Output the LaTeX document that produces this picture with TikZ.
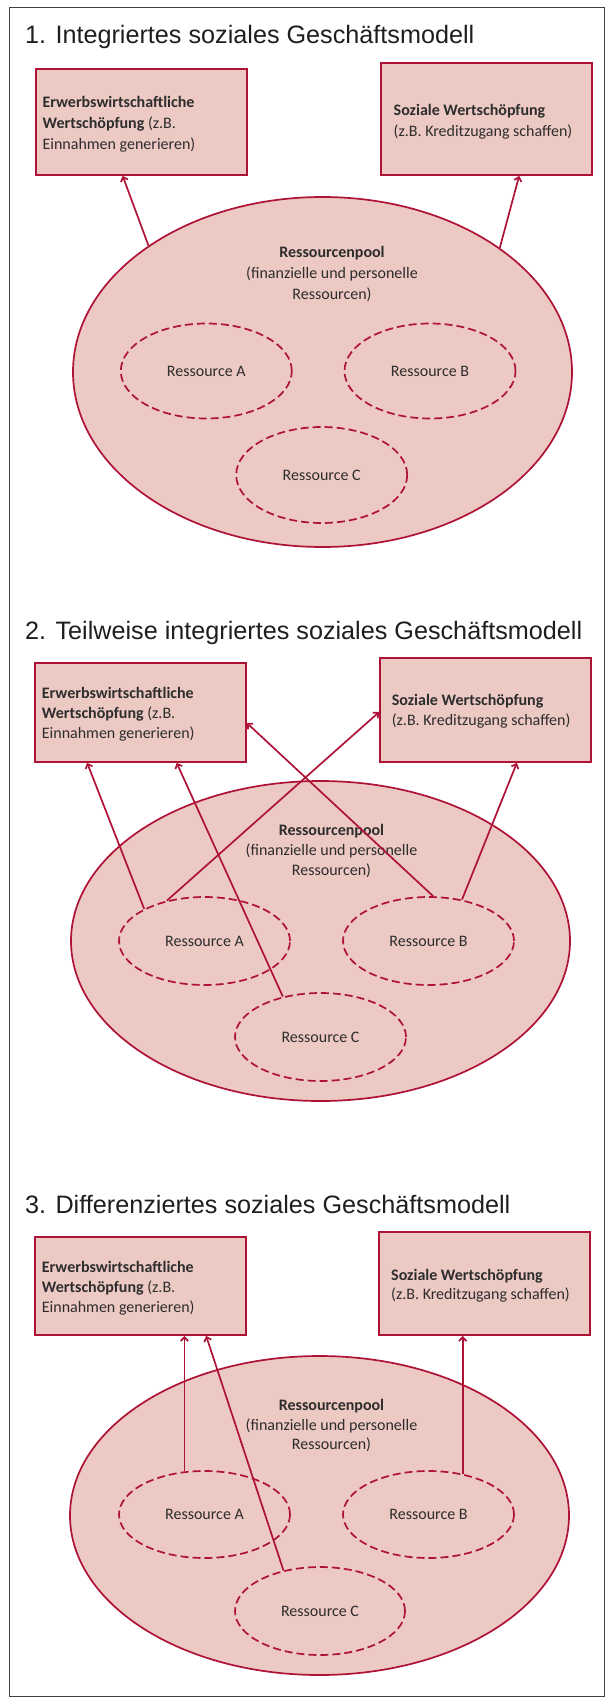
\documentclass[tikz,border=0pt]{standalone}
\usepackage{fontspec}
\setmainfont{Carlito}
\newfontfamily\titlefont{Liberation Sans}
\usetikzlibrary{shapes.geometric,arrows.meta,calc}
\definecolor{crim}{RGB}{175,18,55}
\definecolor{pinkfill}{RGB}{236,201,195}
\definecolor{txtcol}{RGB}{45,45,45}
\definecolor{framecol}{RGB}{64,64,64}
\definecolor{titlecol}{RGB}{30,30,30}
\begin{document}
\begin{tikzpicture}[x=1pt,y=-1pt,
  box/.style={draw=crim, fill=pinkfill, line width=1.7pt, inner sep=0pt, rectangle},
  pool/.style={draw=crim, fill=pinkfill, line width=1.7pt, ellipse, inner sep=0pt, minimum width=499pt},
  res/.style={draw=crim, dash pattern=on 8pt off 4pt, line width=1.7pt, ellipse, inner sep=0pt, minimum width=171pt, font=\fontsize{16}{19}\selectfont, text=txtcol},
  boxline/.style={anchor=base west, inner sep=0pt, font=\fontsize{16}{19}\selectfont, text=txtcol},
  cline/.style={anchor=base, inner sep=0pt, font=\fontsize{16}{19}\selectfont, text=txtcol},
  ttlstyle/.style={anchor=base west, inner sep=0pt, font=\titlefont\fontsize{25.2}{30}\selectfont, text=titlecol},
  arr/.style={draw=crim, line width=1.7pt, -{Straight Barb[length=4pt,width=7.5pt]}}
]
\useasboundingbox (0,0) rectangle (605,1697);
\draw[framecol, line width=1.2pt] (9.5,7.5) rectangle (604.5,1696.5);

% ---------- Section 1 ----------
\node[ttlstyle] (t1) at (25,43) {1. Integriertes soziales Geschäftsmodell};
\node[box, minimum width=211pt, minimum height=106pt] (L1) at (141.5,122) {};
\node[box, minimum width=211pt, minimum height=112pt] (R1) at (486.5,119) {};
\node[boxline] (l1a) at (42.4,107) {\textbf{Erwerbswirtschaftliche}};
\node[boxline] (l1b) at (42.4,128) {\textbf{Wertschöpfung} (z.B.};
\node[boxline] (l1c) at (42.4,149) {Einnahmen generieren)};
\node[boxline] (r1a) at (393.5,115) {\textbf{Soziale Wertschöpfung}};
\node[boxline] (r1b) at (393.5,136) {(z.B. Kreditzugang schaffen)};
\node[pool, minimum height=350pt] (P1) at (322.5,372) {};
\node[cline] (p1a) at (332,257) {\textbf{Ressourcenpool}};
\node[cline] (p1b) at (332,278) {(finanzielle und personelle};
\node[cline] (p1c) at (332,299) {Ressourcen)};
\node[res, minimum height=95pt] (A1) at (206.3,371) {Ressource A};
\node[res, minimum height=95pt] (B1) at (430,371) {Ressource B};
\node[res, minimum height=96pt] (C1) at (321.7,475) {Ressource C};
\draw[arr] (P1.144.85) -- ([xshift=87.5pt]L1.south west);
\draw[arr] (P1.35.15) -- ([xshift=139pt]R1.south west);

% ---------- Section 2 ----------
\node[ttlstyle] (t2) at (25,639.3) {2. Teilweise integriertes soziales Geschäftsmodell};
\node[box, minimum width=211.3pt, minimum height=99pt] (L2) at (140.35,712.5) {};
\node[box, minimum width=211pt, minimum height=104pt] (R2) at (485.5,710) {};
\node[boxline] (l2a) at (41.7,698) {\textbf{Erwerbswirtschaftliche}};
\node[boxline] (l2b) at (41.7,718) {\textbf{Wertschöpfung} (z.B.};
\node[boxline] (l2c) at (41.7,738) {Einnahmen generieren)};
\node[boxline] (r2a) at (391.6,705) {\textbf{Soziale Wertschöpfung}};
\node[boxline] (r2b) at (391.6,725) {(z.B. Kreditzugang schaffen)};
\node[pool, minimum height=320pt] (P2) at (320.5,941) {};
\node[cline] (p2a) at (331.5,835) {\textbf{Ressourcenpool}};
\node[cline] (p2b) at (331.5,855) {(finanzielle und personelle};
\node[cline] (p2c) at (331.5,875) {Ressourcen)};
\node[res, minimum height=88pt] (A2) at (204.5,941) {Ressource A};
\node[res, minimum height=88pt] (B2) at (428.5,941) {Ressource B};
\node[res, minimum height=88pt] (C2) at (320.5,1037) {Ressource C};
\draw[arr] (A2.152.5) -- ([xshift=53.3pt]L2.south west);
\draw[arr] (C2.133.9) -- ([xshift=142.8pt]L2.south west);
\draw[arr] (A2.133.9) -- ([yshift=-2pt]R2.west);
\draw[arr] (B2.84.3) -- ([yshift=-10.5pt]L2.east);
\draw[arr] (B2.51.4) -- ([xshift=137.7pt]R2.south west);

% ---------- Section 3 ----------
\node[ttlstyle] (t3) at (25,1213) {3. Differenziertes soziales Geschäftsmodell};
\node[box, minimum width=211.3pt, minimum height=98pt] (L3) at (140.35,1286) {};
\node[box, minimum width=211pt, minimum height=103pt] (R3) at (484.5,1283.5) {};
\node[boxline] (l3a) at (41.7,1272) {\textbf{Erwerbswirtschaftliche}};
\node[boxline] (l3b) at (41.7,1292) {\textbf{Wertschöpfung} (z.B.};
\node[boxline] (l3c) at (41.7,1312) {Einnahmen generieren)};
\node[boxline] (r3a) at (391,1280) {\textbf{Soziale Wertschöpfung}};
\node[boxline] (r3b) at (391,1299) {(z.B. Kreditzugang schaffen)};
\node[pool, minimum height=319pt] (P3) at (319.5,1515.5) {};
\node[cline] (p3a) at (331.5,1410) {\textbf{Ressourcenpool}};
\node[cline] (p3b) at (331.5,1430) {(finanzielle und personelle};
\node[cline] (p3c) at (331.5,1449) {Ressourcen)};
\node[res, minimum height=87pt] (A3) at (204.5,1514.5) {Ressource A};
\node[res, minimum height=87pt] (B3) at (428.5,1514.5) {Ressource B};
\node[res, minimum width=170pt, minimum height=88pt] (C3) at (320,1611) {Ressource C};
\draw[arr] (A3.115.9) -- (A3.115.9 |- L3.south);
\draw[arr] (C3.132) -- ([xshift=172.3pt]L3.south west);
\draw[arr] (B3.50) -- (B3.50 |- R3.south);
\end{tikzpicture}
\end{document}
